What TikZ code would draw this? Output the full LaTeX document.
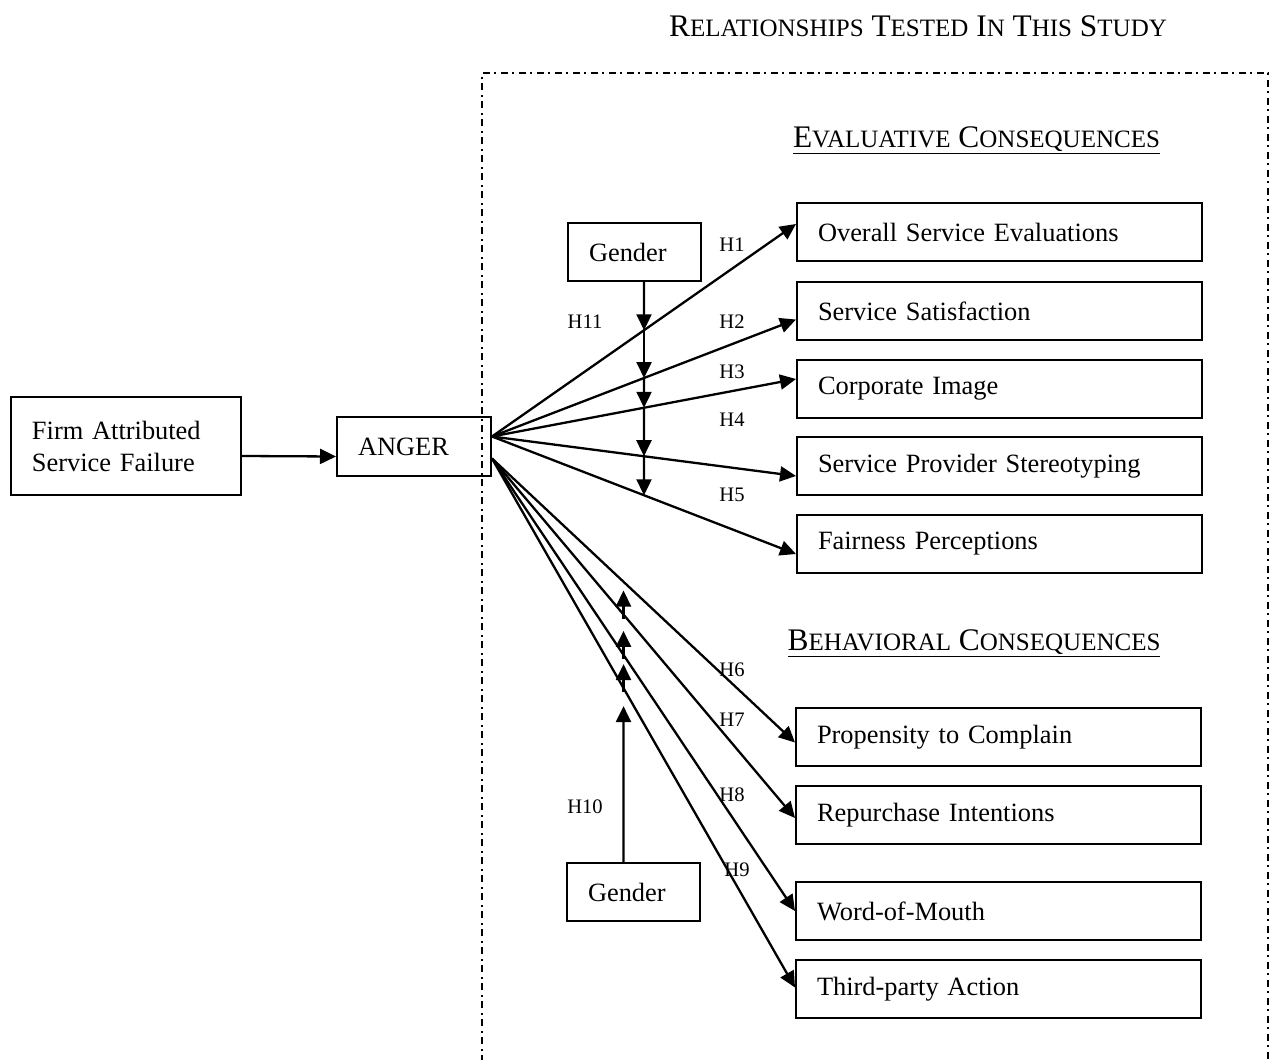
\documentclass[tikz,border=0pt]{standalone}
\usepackage{fontspec}
\setmainfont{Liberation Serif}
\usetikzlibrary{arrows.meta}

\newcommand{\fakesc}[2]{#1{\fontsize{12.5}{14}\selectfont #2}}
\newcommand{\headfont}{\fontsize{15.7}{18}\selectfont}

\begin{document}
\begin{tikzpicture}[x=0.5pt, y=-0.5pt,
    font=\fontsize{13.2}{16}\selectfont,
    >={Triangle[length=8pt,width=7.5pt]},
    box/.style={draw, line width=1pt, anchor=north west, inner xsep=10.5pt,
        inner ysep=0pt, align=left},
    outbox/.style={box, text width=181.5pt, minimum height=29pt},
    genbox/.style={box, text width=45.5pt, minimum height=29pt},
    arr/.style={->, line width=1.15pt},
    hyp/.style={font=\fontsize{10.3}{12}\selectfont, inner sep=0pt},
    border/.style={line width=1.2pt, dash pattern=on 3.5pt off 2pt on 1pt off 2.5pt}]
    \path[use as bounding box, clip] (0,0) rectangle (1271,1060);

    % Headings
    \node[anchor=base] (title) at (918,36) {\headfont\fakesc{R}{ELATIONSHIPS}
        \fakesc{T}{ESTED} \fakesc{I}{N} \fakesc{T}{HIS} \fakesc{S}{TUDY}};
    \node[anchor=base] (evalhead) at (976.5,147)
        {\headfont\underline{\fakesc{E}{VALUATIVE} \fakesc{C}{ONSEQUENCES}}};
    \node[anchor=base] (behhead) at (974,650)
        {\headfont\underline{\fakesc{B}{EHAVIORAL} \fakesc{C}{ONSEQUENCES}}};

    % Tested relationships
    \draw[border] (482,1080) -- (482,73) -- (1268,73) -- (1268,1080);

    % Antecedent and emotion
    \node[box, text width=94pt, minimum height=49pt] (firm) at (10,396)
        {Firm Attributed\\Service Failure};
    \node[box, text width=56pt, minimum height=29.5pt] (ang) at (336,416) {ANGER};
    \draw[arr] ([yshift=-5pt]firm.east) -- ([yshift=-5pt]ang.west);

    % Moderators
    \node[genbox] (gt) at (567,222) {Gender};
    \node[genbox] (gb) at (566,862) {Gender};

    % Evaluative consequences
    \node[outbox] (o1) at (796,202) {Overall Service Evaluations};
    \node[outbox] (o2) at (796,281) {Service Satisfaction};
    \node[outbox] (o3) at (796,359) {Corporate Image};
    \node[outbox] (o4) at (796,436) {Service Provider Stereotyping};
    \node[outbox] (o5) at (796,514) {Fairness Perceptions};

    % Behavioral consequences
    \node[outbox] (b1) at (795,707) {Propensity to Complain};
    \node[outbox] (b2) at (795,785) {Repurchase Intentions};
    \node[outbox] (b3) at (795,881) {Word-of-Mouth};
    \node[outbox] (b4) at (795,959) {Third-party Action};

    \coordinate (up) at ([yshift=5pt]ang.east);
    \coordinate (lo) at ([yshift=-6pt]ang.east);

    \foreach \b/\s in {o1/4, o2/-4.25, o3/5, o4/-5, o5/-5}
        \draw[arr] (up) -- ([yshift=\s pt]\b.west) coordinate (e\b);
    \foreach \b/\s in {b1/-2.75, b2/-1.5, b3/0, b4/0.75}
        \draw[arr] (lo) -- ([yshift=\s pt]\b.west) coordinate (e\b);

    % Gender moderating H1-H5
    \coordinate (vt) at ([xshift=4.75pt]gt.south);
    \coordinate (vtb) at (vt |- b4.south);
    \foreach \b in {o1,o2,o3,o4,o5}
        \coordinate (c\b) at (intersection cs: first line={(vt)--(vtb)},
            second line={(up)--(e\b)});
    \foreach \a/\b in {vt/co1, co1/co2, co2/co3, co3/co4, co4/co5}
        \draw[arr] (\a) -- (\b);

    % Gender moderating H6-H9
    \coordinate (vb) at ([xshift=-5pt]gb.north);
    \coordinate (vbt) at (vb |- gt.north);
    \foreach \b in {b2,b3,b4} {
        \coordinate (c\b) at (intersection cs: first line={(vb)--(vbt)},
            second line={(lo)--(e\b)});
        \draw[arr] ([yshift=-2pt]c\b) -- ([yshift=12pt]c\b);
    }
    \draw[arr] (vb) -- ([yshift=-9pt]cb4);

    % Hypotheses
    \node[hyp] (h1) at (732,245) {H1};
    \node[hyp] (h2) at (732,322) {H2};
    \node[hyp] (h3) at (732,372) {H3};
    \node[hyp] (h4) at (732,420) {H4};
    \node[hyp] (h5) at (732,495) {H5};
    \node[hyp] (h6) at (732,670) {H6};
    \node[hyp] (h7) at (732,720) {H7};
    \node[hyp] (h8) at (732,795) {H8};
    \node[hyp] (h9) at (737,870) {H9};
    \node[hyp] (h10) at (585,807) {H10};
    \node[hyp] (h11) at (585,322) {H11};
\end{tikzpicture}
\end{document}
